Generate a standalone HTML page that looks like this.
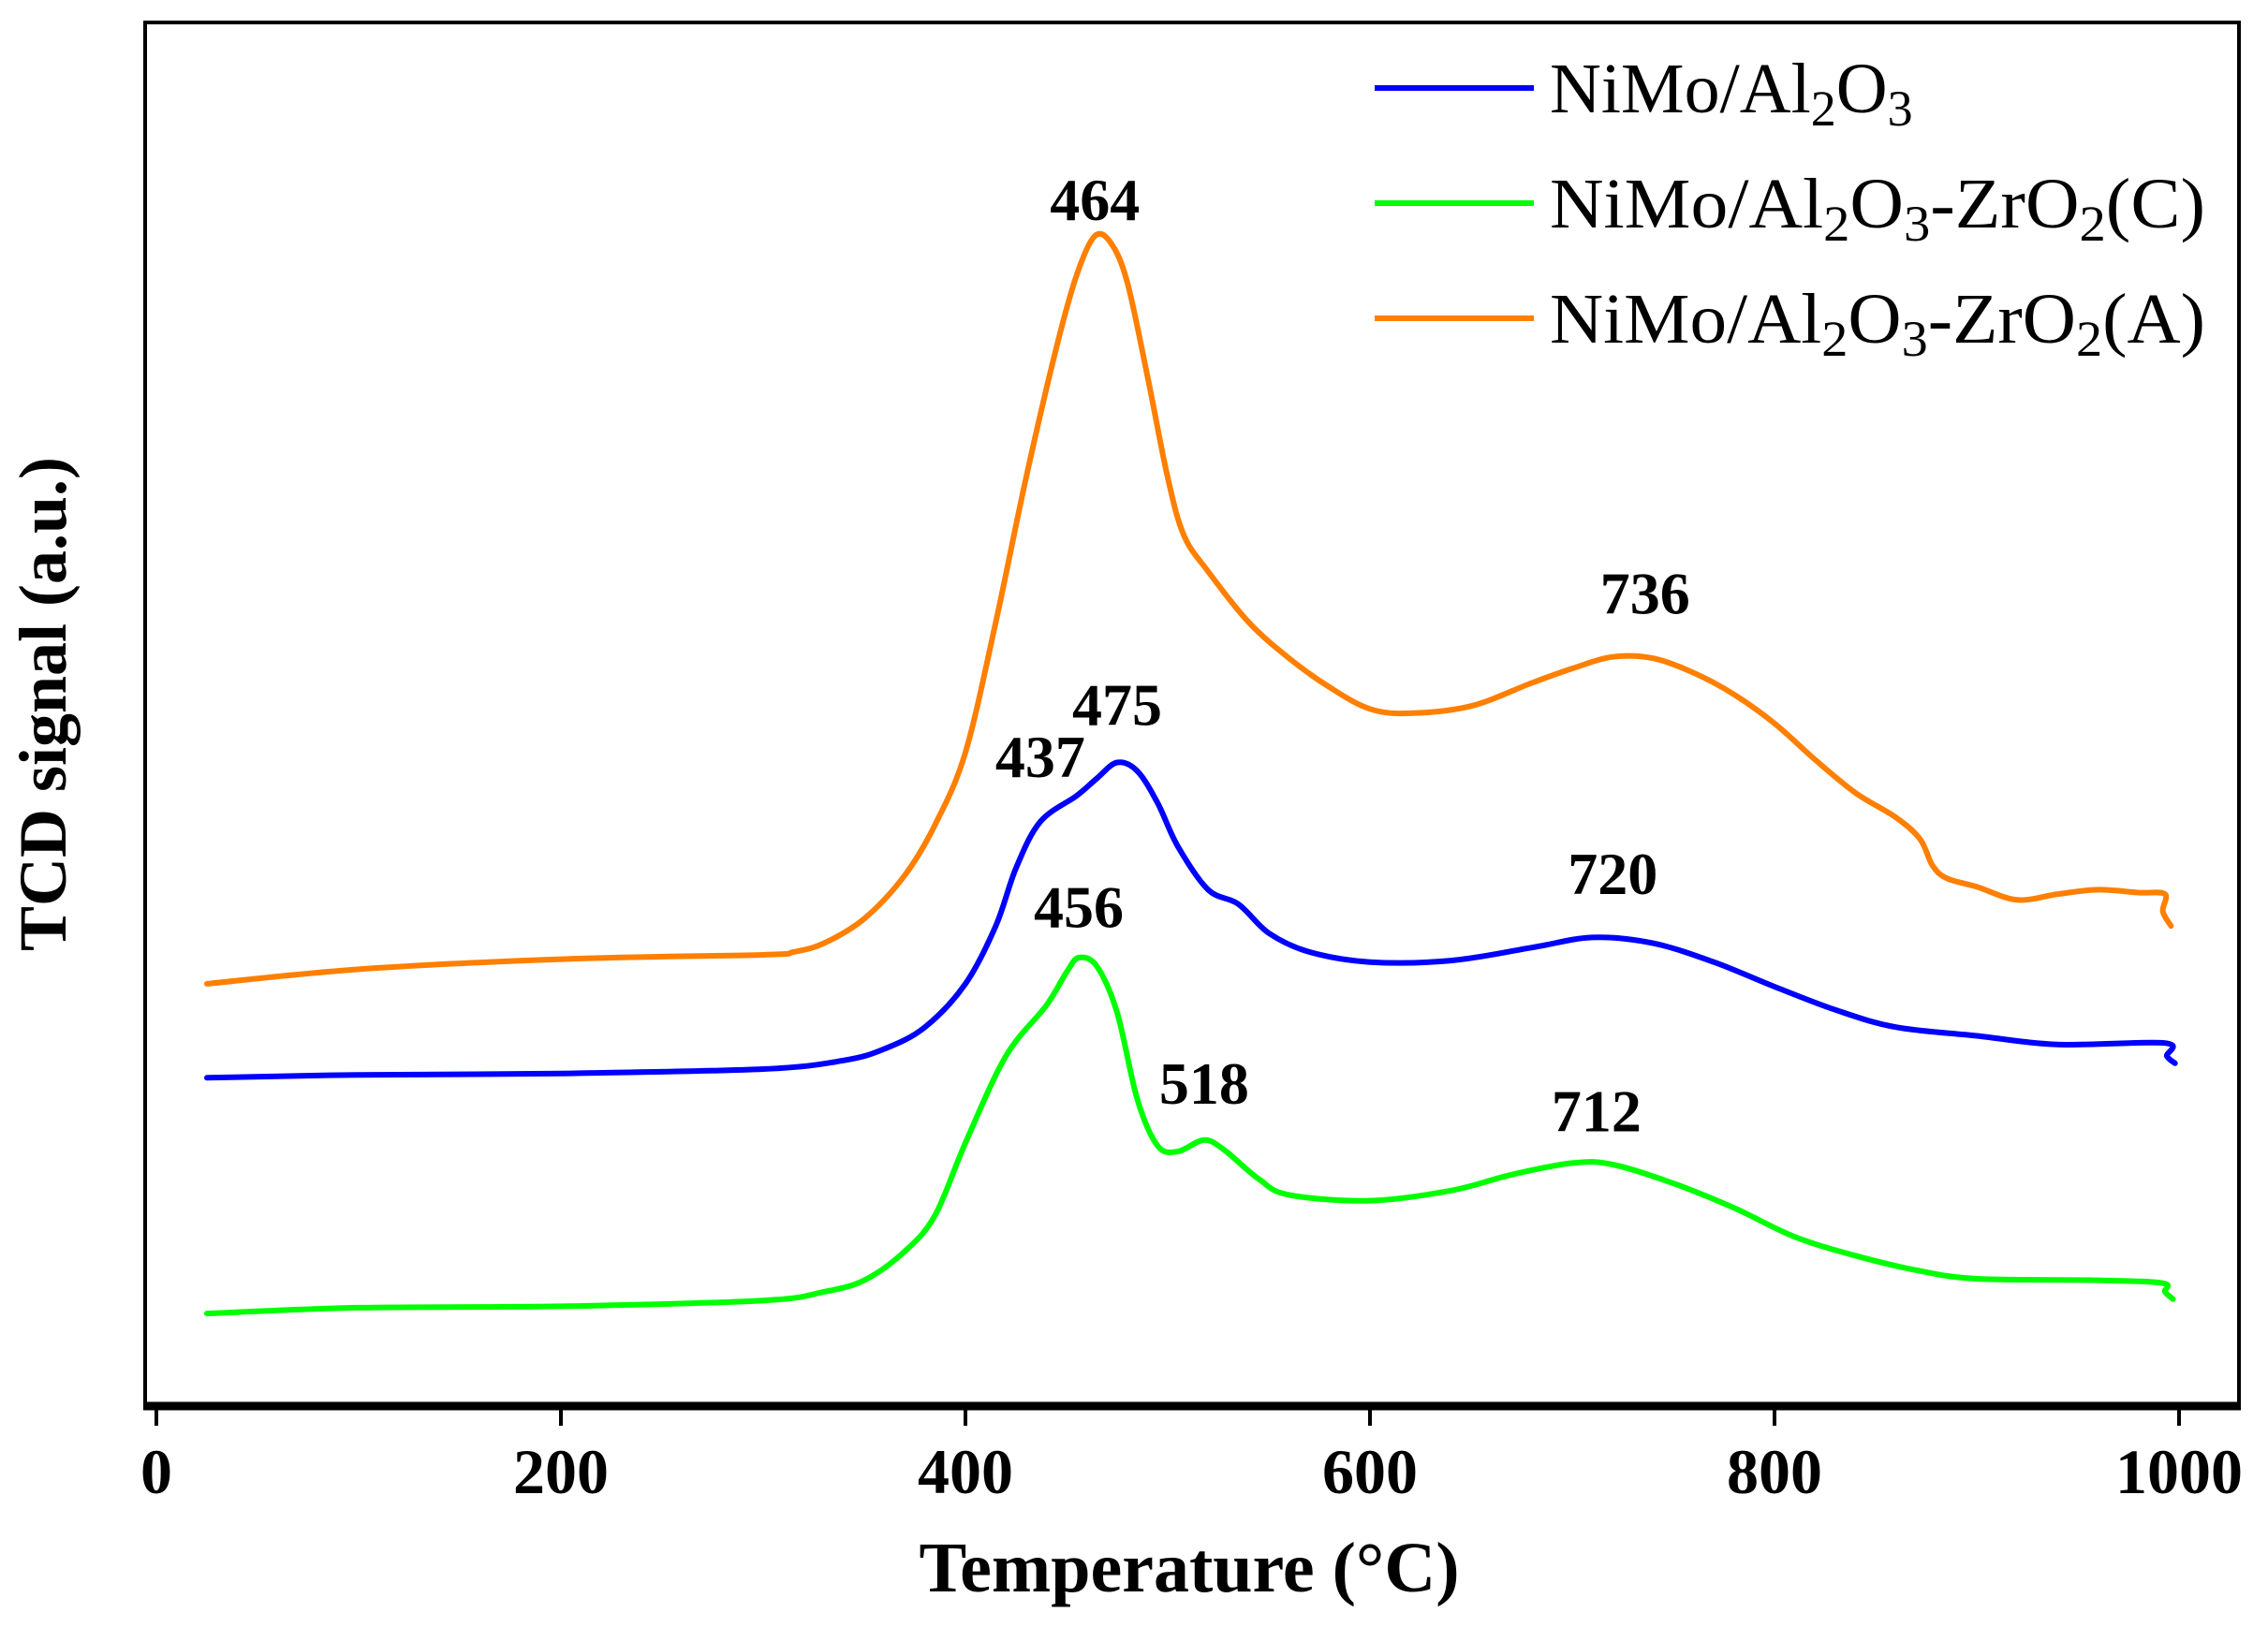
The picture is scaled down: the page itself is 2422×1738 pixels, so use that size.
<!DOCTYPE html>
<html><head><meta charset="utf-8"><style>
html,body{margin:0;padding:0;background:#fff;}
svg{display:block;}
text{font-family:"Liberation Serif",serif;}
</style></head><body>
<svg id="chart" width="2422" height="1738" viewBox="0 0 2422 1738">
<rect x="155" y="24" width="2236" height="1478" fill="none" stroke="#000" stroke-width="4"/>
<line x1="153" y1="1502" x2="2393" y2="1502" stroke="#000" stroke-width="9"/>
<g id="xticks"></g>
<g id="series"></g>
<g id="peaks"></g>
<text x="1270" y="1700" text-anchor="middle" font-size="76" font-weight="bold">Temperature (°C)</text>
<text transform="translate(70,752) rotate(-90)" text-anchor="middle" font-size="72" font-weight="bold">TCD signal (a.u.)</text>
<g>
 <g>
  <line x1="1468" y1="94" x2="1638" y2="94" stroke="#0000ff" stroke-width="6"/>
  <text x="1655" y="120" font-size="76">NiMo/Al<tspan font-size="54" dy="14">2</tspan><tspan dy="-14">O</tspan><tspan font-size="54" dy="14">3</tspan></text>
 </g>
 <g>
  <line x1="1468" y1="217" x2="1638" y2="217" stroke="#00ff00" stroke-width="6"/>
  <text x="1655" y="243" font-size="76" textLength="700" lengthAdjust="spacingAndGlyphs">NiMo/Al<tspan font-size="54" dy="14">2</tspan><tspan dy="-14">O</tspan><tspan font-size="54" dy="14">3</tspan><tspan dy="-14">-ZrO</tspan><tspan font-size="54" dy="14">2</tspan><tspan dy="-14">(C)</tspan></text>
 </g>
 <g>
  <line x1="1468" y1="340" x2="1638" y2="340" stroke="#ff7f00" stroke-width="6"/>
  <text x="1655" y="366" font-size="76" textLength="700" lengthAdjust="spacingAndGlyphs">NiMo/Al<tspan font-size="54" dy="14">2</tspan><tspan dy="-14">O</tspan><tspan font-size="54" dy="14">3</tspan><tspan dy="-14">-ZrO</tspan><tspan font-size="54" dy="14">2</tspan><tspan dy="-14">(A)</tspan></text>
 </g>
</g>
</svg>
<script>
const xTicks = [0, 200, 400, 600, 800, 1000];
const orangeT = [25,100,200,300,315,330,350,370,385,400,415,430,445,455,464,472,480,490,500,508,520,540,560,580,600,620,650,680,700,720,740,760,780,800,820,840,860,872,878,885,900,920,940,960,980,993,992,996];
const orangeV = [292,302,309,312,314,320,337,367,402,452,542,642,732,782,809,804,777,712,642,602,577,542,517,497,482,479,484,500,510,518,517,507,492,472,447,424,407,392,374,365,359,350,354,357,355,354,342,332];
const blueT = [25,100,200,300,340,360,380,400,415,425,437,455,465,475,485,495,505,520,535,550,570,600,640,680,710,740,770,800,830,860,900,940,993,994,998];
const blueV = [227,229,230,233,239,247,262,292,332,372,404,422,434,445,439,417,387,357,347,327,314,307,308,317,324,320,307,290,274,262,256,250,251,242,237];
const greenT = [25,100,200,300,330,350,370,385,400,420,440,450,456,465,475,485,495,505,518,528,545,560,600,640,670,700,720,750,780,810,840,870,900,960,992,993,997];
const greenV = [64,68,69,73,79,87,107,132,182,242,277,300,310,304,272,212,180,176,184,177,157,146,142,149,160,168,167,154,137,117,104,94,88,87,85,79,74];
const peakT = [464,736,475,437,720,456,518,712];
const peakLabelV = [820,548,471,435,354,331,209,190];

const NS = 'http://www.w3.org/2000/svg';
function xS(t){ return 167 + 2.16 * t; }
function yS(v){ return 1502 - v * 1.545; }

const xt = document.getElementById('xticks');
xTicks.forEach(t => {
  const l = document.createElementNS(NS,'line');
  l.setAttribute('x1', xS(t)); l.setAttribute('x2', xS(t));
  l.setAttribute('y1', 1502); l.setAttribute('y2', 1523);
  l.setAttribute('stroke','#000'); l.setAttribute('stroke-width','4');
  
  
  xt.appendChild(l);
  const tx = document.createElementNS(NS,'text');
  tx.setAttribute('x', xS(t)); tx.setAttribute('y', 1595);
  tx.setAttribute('text-anchor','middle'); tx.setAttribute('font-size','68'); tx.setAttribute('font-weight','bold');
  tx.textContent = t;
  
  
  xt.appendChild(tx);
});

const sg = document.getElementById('series');
function drawSeries(T, V, color, name){
  const pts = T.map((t,i) => [xS(t), yS(V[i])]);
  let d = 'M' + pts[0][0].toFixed(1) + ',' + pts[0][1].toFixed(1);
  for (let i = 0; i < pts.length - 1; i++) {
    const p0 = pts[Math.max(0,i-1)], p1 = pts[i], p2 = pts[i+1], p3 = pts[Math.min(pts.length-1,i+2)];
    const c1x = p1[0] + (p2[0]-p0[0])/6, c1y = p1[1] + (p2[1]-p0[1])/6;
    const c2x = p2[0] - (p3[0]-p1[0])/6, c2y = p2[1] - (p3[1]-p1[1])/6;
    d += 'C' + c1x.toFixed(1) + ',' + c1y.toFixed(1) + ' ' + c2x.toFixed(1) + ',' + c2y.toFixed(1) + ' ' + p2[0].toFixed(1) + ',' + p2[1].toFixed(1);
  }
  const p = document.createElementNS(NS,'path');
  p.setAttribute('d', d);
  p.setAttribute('fill','none'); p.setAttribute('stroke', color); p.setAttribute('stroke-width','6');
  p.setAttribute('stroke-linejoin','round'); p.setAttribute('stroke-linecap','round');
  
  
  sg.appendChild(p);
}
drawSeries(orangeT, orangeV, '#ff7f00', 'series-nimo-al2o3-zro2-a');
drawSeries(blueT, blueV, '#0000ff', 'series-nimo-al2o3');
drawSeries(greenT, greenV, '#00ff00', 'series-nimo-al2o3-zro2-c');

const pg = document.getElementById('peaks');
peakT.forEach((t,i) => {
  const tx = document.createElementNS(NS,'text');
  tx.setAttribute('x', xS(t)); tx.setAttribute('y', yS(peakLabelV[i]));
  tx.setAttribute('text-anchor','middle'); tx.setAttribute('font-size','64'); tx.setAttribute('font-weight','bold');
  tx.textContent = t;
  
  
  pg.appendChild(tx);
});
</script>
</body></html>
